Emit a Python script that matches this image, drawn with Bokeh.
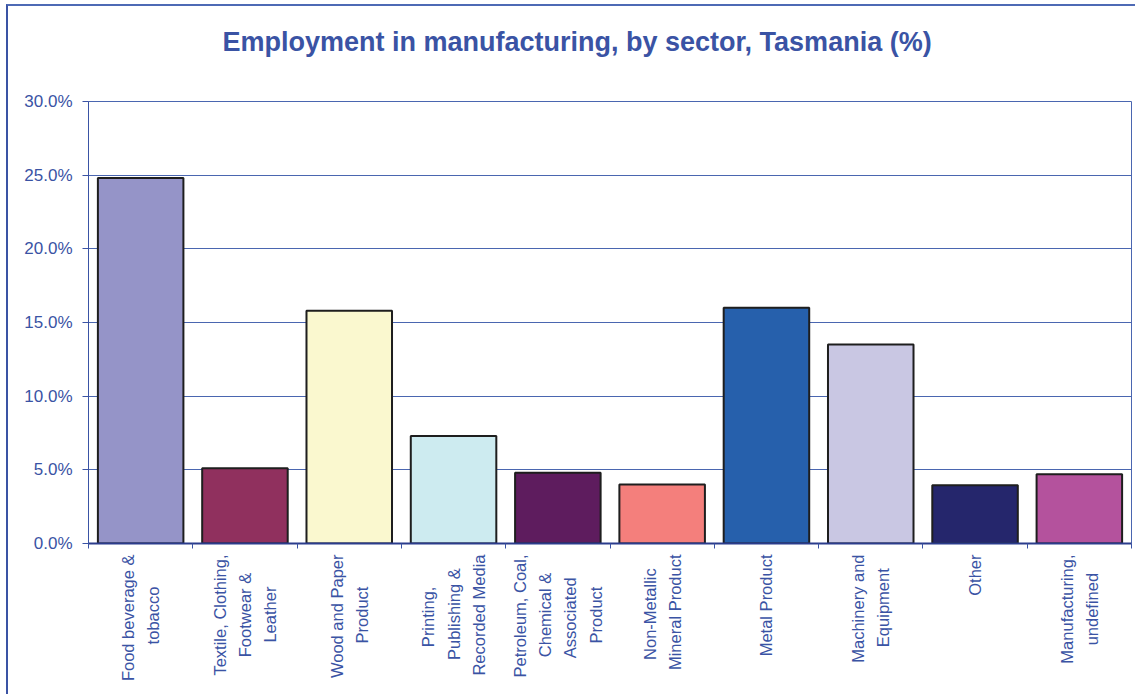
import math
from bokeh.plotting import figure
from bokeh.models import Range1d, FixedTicker, NumeralTickFormatter, Title
from bokeh.embed import file_html
from bokeh.resources import INLINE

title_text = "Employment in manufacturing, by sector, Tasmania (%)"
categories = [
    "Food beverage &\ntobacco",
    "Textile, Clothing,\nFootwear &\nLeather",
    "Wood and Paper\nProduct",
    "Printing,\nPublishing &\nRecorded Media",
    "Petroleum, Coal,\nChemical &\nAssociated\nProduct",
    "Non-Metallic\nMineral Product",
    "Metal Product",
    "Machinery and\nEquipment",
    "Other",
    "Manufacturing,\nundefined",
]
values = [24.8, 5.1, 15.8, 7.3, 4.8, 4.0, 16.0, 13.5, 3.95, 4.7]
colors = ["#9594C8", "#90305E", "#FAF8CF", "#CDEBF0", "#5E1C5E",
          "#F47F7C", "#2660AC", "#C9C7E3", "#25266C", "#B4529D"]
y_ticks = [0, 5, 10, 15, 20, 25, 30]

TXT = "#3A53A4"
FONT = "Liberation Sans"
XFS = 16.5

# Liberation Sans (Arial-metric) advance widths, per 1000 em, used to centre
# the lines of each rotated multi-line tick label.
ADV = {" ": 278, "&": 667, ",": 278, "-": 333, "A": 667, "C": 722, "E": 667,
       "F": 611, "L": 556, "M": 833, "N": 722, "O": 778, "P": 667, "R": 722,
       "T": 611, "W": 944, "a": 556, "b": 556, "c": 500, "d": 556, "e": 556,
       "f": 278, "g": 556, "h": 556, "i": 222, "l": 222, "m": 833, "n": 556,
       "o": 556, "p": 556, "q": 556, "r": 333, "s": 500, "t": 278, "u": 556,
       "v": 500, "w": 722, "x": 500, "y": 500}


def centred(label):
    lines = label.split("\n")
    widths = [sum(ADV.get(ch, 556) for ch in ln) for ln in lines]
    m = max(widths)
    out = []
    for ln, w in zip(lines, widths):
        n = int(round((m - w) / 2 / 278))
        out.append(ln + "\u00a0" * n)
    return "\n".join(out)


p = figure(width=1129, height=690, output_backend="svg", toolbar_location=None,
           x_range=Range1d(0, len(categories)), y_range=Range1d(0, 0.30),
           min_border_left=80, min_border_right=6, min_border_top=95, min_border_bottom=153)
p.styles = {"margin-left": "6px", "margin-top": "4px",
            "border-top": "2px solid #4E6AB5", "border-left": "2px solid #3A53A4"}

xs = [i + 0.5 for i in range(len(categories))]
tops = [v / 100 for v in values]
p.vbar(x=xs, top=tops, width=0.82, bottom=0, fill_color=colors,
       line_color="#1E1E1E", line_width=2)

# spacer panel between the frame and the title
p.add_layout(Title(text=" ", text_font_size="10px", standoff=22), "above")
p.title.text = title_text
p.title.text_font = FONT
p.title.text_font_size = "27px"
p.title.text_font_style = "bold"
p.title.text_color = TXT
p.title.align = "left"
p.title.offset = 134
p.title.standoff = 20

p.outline_line_color = "#4A66B0"
p.outline_line_width = 1
p.background_fill_color = "white"
p.border_fill_color = "white"

p.xgrid.visible = False
p.ygrid.ticker = FixedTicker(ticks=[t / 100 for t in y_ticks])
p.ygrid.grid_line_color = "#4A66B0"
p.ygrid.grid_line_width = 1

yax = p.yaxis[0]
yax.ticker = FixedTicker(ticks=[t / 100 for t in y_ticks])
yax.formatter = NumeralTickFormatter(format="0.0%")
yax.axis_line_color = "#3A53A4"
yax.major_tick_line_color = "#3A53A4"
yax.major_tick_out = 6
yax.major_tick_in = 0
yax.minor_tick_line_color = None
yax.major_label_text_font = FONT
yax.major_label_text_font_size = "17px"
yax.major_label_text_color = TXT
yax.major_label_standoff = 10

xax = p.xaxis[0]
xax.ticker = FixedTicker(ticks=xs, minor_ticks=list(range(len(categories) + 1)))
xax.major_label_overrides = {x: centred(c) for x, c in zip(xs, categories)}
xax.major_label_orientation = math.pi / 2
xax.axis_line_color = "#2B3C8C"
xax.axis_line_width = 2
xax.major_tick_line_color = None
xax.major_tick_out = 0
xax.minor_tick_line_color = "#3A53A4"
xax.minor_tick_out = 5
xax.minor_tick_in = 0
xax.major_label_text_font = FONT
xax.major_label_text_font_size = f"{XFS}px"
xax.major_label_text_color = TXT
xax.major_label_text_line_height = 1.4
xax.major_label_standoff = 6

open("out.html", "w").write(file_html(p, INLINE))
